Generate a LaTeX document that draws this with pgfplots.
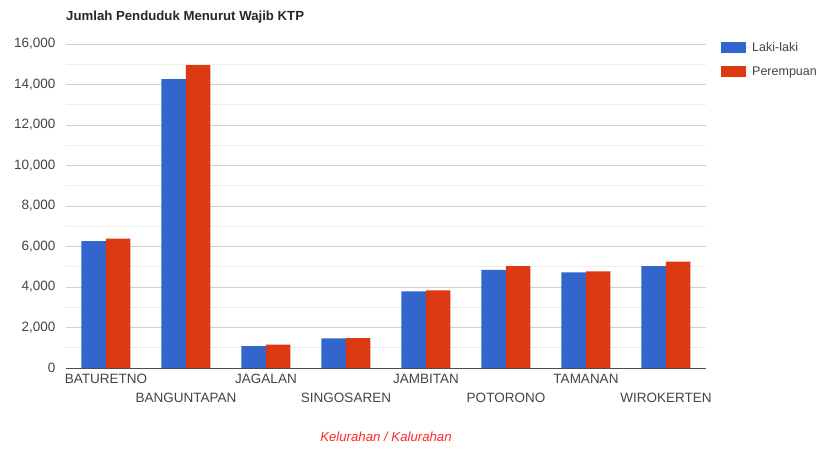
\documentclass[border=0pt]{standalone}
\usepackage{fontspec}
\setmainfont{Liberation Sans}
\usepackage{pgfplots}
\pgfplotsset{compat=1.18}
\definecolor{cblue}{HTML}{3366CC}
\definecolor{cred}{HTML}{DC3912}
\definecolor{ticktext}{HTML}{444444}
\begin{document}
\begin{tikzpicture}[x=1pt,y=1pt]
\path[use as bounding box] (-66,-80) rectangle (758,368);
\node[anchor=west, inner sep=0pt, font=\bfseries\fontsize{13.2}{15}\selectfont, text=black!85] at (0,351) {Jumlah Penduduk Menurut Wajib KTP};
\begin{axis}[at={(0,0)}, anchor=south west, scale only axis, width=640pt, height=324pt,
 ybar=0pt, bar width=24.5pt,
 xmin=-0.5, xmax=7.5, ymin=0, ymax=16000,
 ytick={0,2000,...,16000}, minor y tick num=1,
 ymajorgrids, yminorgrids,
 major grid style={draw=black!18, line width=0.8pt},
 minor grid style={draw=black!7, line width=0.8pt},
 axis line style={draw=none}, tick style={draw=none},
 major tick length=0pt, minor tick length=0pt,
 xtick={0,2,4,6}, xticklabels={BATURETNO,JAGALAN,JAMBITAN,TAMANAN},
 extra x ticks={1,3,5,7}, extra x tick labels={BANGUNTAPAN,SINGOSAREN,POTORONO,WIROKERTEN},
 extra x tick style={xticklabel style={yshift=-19pt}},
 xticklabel style={font=\fontsize{13.5}{15}\selectfont, text=ticktext, anchor=north, yshift=-3pt},
 yticklabel style={font=\fontsize{13.5}{15}\selectfont, text=ticktext, xshift=-7pt},
 /pgf/number format/assume math mode=true,
 /pgf/number format/.cd, 1000 sep={,}, /pgfplots/.cd,
 scaled y ticks=false,
 xlabel={Kelurahan / Kalurahan},
 xlabel style={at={(axis description cs:0.5,0)}, anchor=center, yshift=-69pt, font=\itshape\fontsize{13.2}{15}\selectfont, text=red!85},
 legend style={draw=none, fill=none, at={(rel axis cs:1,1)}, anchor=north west, xshift=12pt, yshift=6pt, row sep=10pt, font=\fontsize{12.5}{14}\selectfont, text=ticktext},
 legend cell align=left,
]
\addplot[fill=cblue, draw=none, legend image code/.code={\fill[cblue] (0pt,-5.5pt) rectangle (25pt,5.5pt); \path (0pt,0pt) -- (29pt,0pt);}] coordinates {(0,6270) (1,14270) (2,1080) (3,1460) (4,3780) (5,4850) (6,4720) (7,5030)};
\addplot[fill=cred, draw=none, legend image code/.code={\fill[cred] (0pt,-5.5pt) rectangle (25pt,5.5pt); \path (0pt,0pt) -- (29pt,0pt);}] coordinates {(0,6390) (1,14960) (2,1150) (3,1470) (4,3830) (5,5030) (6,4770) (7,5250)};
\legend{Laki-laki, Perempuan}
\draw[black!70, line width=1pt] (rel axis cs:0,0) -- (rel axis cs:1,0);
\end{axis}
\end{tikzpicture}
\end{document}
